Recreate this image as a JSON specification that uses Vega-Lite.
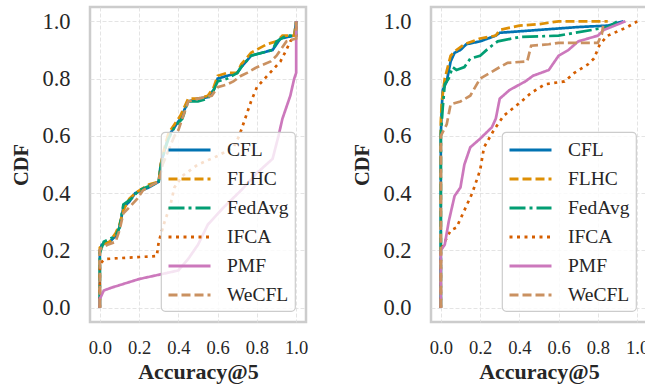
{
  "$schema": "https://vega.github.io/schema/vega-lite/v6.json",
  "padding": {"left": 10, "top": 5, "right": 2, "bottom": 0},
  "background": "white",
  "spacing": 42,
  "config": {
    "font": "Liberation Serif",
    "view": {"stroke": "#cccccc", "strokeWidth": 2.5},
    "axis": {"domain": false, "ticks": false, "grid": true, "gridColor": "#dddddd", "gridDash": [4, 2], "gridWidth": 0.8, "labelColor": "#262626", "titleColor": "#262626", "labelFont": "Liberation Serif", "titleFont": "Liberation Serif", "titleFontWeight": "bold"},
    "axisX": {"labelFontSize": 18.5, "labelPadding": 16, "titlePadding": 5, "titleFontSize": 22},
    "axisY": {"labelFontSize": 22.5, "labelPadding": 20, "titlePadding": 10, "titleFontSize": 20.5},
    "legend": {"orient": "bottom-right", "offset": 11, "fillColor": "rgba(255,255,255,0.8)", "strokeColor": "#cccccc", "strokeWidth": 1.2, "cornerRadius": 4, "padding": 6, "labelFont": "Liberation Serif", "labelFontSize": 19.5, "labelColor": "#262626", "symbolType": "M-1,0L3,0", "symbolSize": 441, "symbolStrokeWidth": 3, "labelOffset": 36, "rowPadding": 7}
  },
  "resolve": {"scale": {"color": "independent", "strokeDash": "independent"}, "legend": {"color": "independent", "strokeDash": "independent"}},
  "datasets": {
    "d": [
      {"p":"L","m":"CFL","i":0,"x":0,"y":0},{"p":"L","m":"CFL","i":1,"x":0,"y":0.2},{"p":"L","m":"CFL","i":2,"x":0.01,"y":0.22},{"p":"L","m":"CFL","i":3,"x":0.05,"y":0.23},{"p":"L","m":"CFL","i":4,"x":0.08,"y":0.25},{"p":"L","m":"CFL","i":5,"x":0.1,"y":0.28},{"p":"L","m":"CFL","i":6,"x":0.12,"y":0.35},{"p":"L","m":"CFL","i":7,"x":0.15,"y":0.37},{"p":"L","m":"CFL","i":8,"x":0.18,"y":0.4},{"p":"L","m":"CFL","i":9,"x":0.25,"y":0.42},{"p":"L","m":"CFL","i":10,"x":0.3,"y":0.44},{"p":"L","m":"CFL","i":11,"x":0.31,"y":0.5},{"p":"L","m":"CFL","i":12,"x":0.33,"y":0.55},{"p":"L","m":"CFL","i":13,"x":0.35,"y":0.6},{"p":"L","m":"CFL","i":14,"x":0.38,"y":0.63},{"p":"L","m":"CFL","i":15,"x":0.41,"y":0.66},{"p":"L","m":"CFL","i":16,"x":0.45,"y":0.72},{"p":"L","m":"CFL","i":17,"x":0.5,"y":0.73},{"p":"L","m":"CFL","i":18,"x":0.55,"y":0.735},{"p":"L","m":"CFL","i":19,"x":0.58,"y":0.76},{"p":"L","m":"CFL","i":20,"x":0.6,"y":0.8},{"p":"L","m":"CFL","i":21,"x":0.65,"y":0.81},{"p":"L","m":"CFL","i":22,"x":0.7,"y":0.82},{"p":"L","m":"CFL","i":23,"x":0.72,"y":0.84},{"p":"L","m":"CFL","i":24,"x":0.77,"y":0.88},{"p":"L","m":"CFL","i":25,"x":0.88,"y":0.9},{"p":"L","m":"CFL","i":26,"x":0.9,"y":0.92},{"p":"L","m":"CFL","i":27,"x":0.92,"y":0.94},{"p":"L","m":"CFL","i":28,"x":0.99,"y":0.95},{"p":"L","m":"CFL","i":29,"x":1.0,"y":1.0},
      {"p":"L","m":"FLHC","i":0,"x":0,"y":0},{"p":"L","m":"FLHC","i":1,"x":0,"y":0.21},{"p":"L","m":"FLHC","i":2,"x":0.01,"y":0.22},{"p":"L","m":"FLHC","i":3,"x":0.05,"y":0.23},{"p":"L","m":"FLHC","i":4,"x":0.08,"y":0.26},{"p":"L","m":"FLHC","i":5,"x":0.1,"y":0.29},{"p":"L","m":"FLHC","i":6,"x":0.12,"y":0.34},{"p":"L","m":"FLHC","i":7,"x":0.15,"y":0.38},{"p":"L","m":"FLHC","i":8,"x":0.18,"y":0.4},{"p":"L","m":"FLHC","i":9,"x":0.25,"y":0.43},{"p":"L","m":"FLHC","i":10,"x":0.3,"y":0.44},{"p":"L","m":"FLHC","i":11,"x":0.31,"y":0.5},{"p":"L","m":"FLHC","i":12,"x":0.33,"y":0.56},{"p":"L","m":"FLHC","i":13,"x":0.35,"y":0.61},{"p":"L","m":"FLHC","i":14,"x":0.38,"y":0.64},{"p":"L","m":"FLHC","i":15,"x":0.41,"y":0.67},{"p":"L","m":"FLHC","i":16,"x":0.45,"y":0.73},{"p":"L","m":"FLHC","i":17,"x":0.5,"y":0.73},{"p":"L","m":"FLHC","i":18,"x":0.55,"y":0.74},{"p":"L","m":"FLHC","i":19,"x":0.58,"y":0.77},{"p":"L","m":"FLHC","i":20,"x":0.6,"y":0.81},{"p":"L","m":"FLHC","i":21,"x":0.65,"y":0.82},{"p":"L","m":"FLHC","i":22,"x":0.7,"y":0.82},{"p":"L","m":"FLHC","i":23,"x":0.72,"y":0.85},{"p":"L","m":"FLHC","i":24,"x":0.77,"y":0.89},{"p":"L","m":"FLHC","i":25,"x":0.85,"y":0.92},{"p":"L","m":"FLHC","i":26,"x":0.9,"y":0.93},{"p":"L","m":"FLHC","i":27,"x":0.93,"y":0.95},{"p":"L","m":"FLHC","i":28,"x":0.99,"y":0.95},{"p":"L","m":"FLHC","i":29,"x":1.0,"y":1.0},
      {"p":"L","m":"FedAvg","i":0,"x":0,"y":0},{"p":"L","m":"FedAvg","i":1,"x":0,"y":0.19},{"p":"L","m":"FedAvg","i":2,"x":0.01,"y":0.21},{"p":"L","m":"FedAvg","i":3,"x":0.02,"y":0.23},{"p":"L","m":"FedAvg","i":4,"x":0.08,"y":0.25},{"p":"L","m":"FedAvg","i":5,"x":0.1,"y":0.28},{"p":"L","m":"FedAvg","i":6,"x":0.12,"y":0.36},{"p":"L","m":"FedAvg","i":7,"x":0.16,"y":0.38},{"p":"L","m":"FedAvg","i":8,"x":0.2,"y":0.41},{"p":"L","m":"FedAvg","i":9,"x":0.27,"y":0.43},{"p":"L","m":"FedAvg","i":10,"x":0.3,"y":0.44},{"p":"L","m":"FedAvg","i":11,"x":0.31,"y":0.49},{"p":"L","m":"FedAvg","i":12,"x":0.33,"y":0.55},{"p":"L","m":"FedAvg","i":13,"x":0.35,"y":0.59},{"p":"L","m":"FedAvg","i":14,"x":0.38,"y":0.63},{"p":"L","m":"FedAvg","i":15,"x":0.42,"y":0.66},{"p":"L","m":"FedAvg","i":16,"x":0.45,"y":0.72},{"p":"L","m":"FedAvg","i":17,"x":0.5,"y":0.72},{"p":"L","m":"FedAvg","i":18,"x":0.55,"y":0.73},{"p":"L","m":"FedAvg","i":19,"x":0.58,"y":0.76},{"p":"L","m":"FedAvg","i":20,"x":0.6,"y":0.79},{"p":"L","m":"FedAvg","i":21,"x":0.65,"y":0.8},{"p":"L","m":"FedAvg","i":22,"x":0.7,"y":0.82},{"p":"L","m":"FedAvg","i":23,"x":0.72,"y":0.84},{"p":"L","m":"FedAvg","i":24,"x":0.77,"y":0.88},{"p":"L","m":"FedAvg","i":25,"x":0.88,"y":0.9},{"p":"L","m":"FedAvg","i":26,"x":0.9,"y":0.93},{"p":"L","m":"FedAvg","i":27,"x":0.95,"y":0.95},{"p":"L","m":"FedAvg","i":28,"x":1.0,"y":0.95},{"p":"L","m":"FedAvg","i":29,"x":1.0,"y":1.0},
      {"p":"L","m":"IFCA","i":0,"x":0,"y":0},{"p":"L","m":"IFCA","i":1,"x":0,"y":0.14},{"p":"L","m":"IFCA","i":2,"x":0.01,"y":0.16},{"p":"L","m":"IFCA","i":3,"x":0.03,"y":0.17},{"p":"L","m":"IFCA","i":4,"x":0.15,"y":0.175},{"p":"L","m":"IFCA","i":5,"x":0.29,"y":0.18},{"p":"L","m":"IFCA","i":6,"x":0.3,"y":0.23},{"p":"L","m":"IFCA","i":7,"x":0.33,"y":0.3},{"p":"L","m":"IFCA","i":8,"x":0.36,"y":0.36},{"p":"L","m":"IFCA","i":9,"x":0.38,"y":0.42},{"p":"L","m":"IFCA","i":10,"x":0.42,"y":0.46},{"p":"L","m":"IFCA","i":11,"x":0.5,"y":0.5},{"p":"L","m":"IFCA","i":12,"x":0.6,"y":0.53},{"p":"L","m":"IFCA","i":13,"x":0.68,"y":0.56},{"p":"L","m":"IFCA","i":14,"x":0.71,"y":0.6},{"p":"L","m":"IFCA","i":15,"x":0.74,"y":0.66},{"p":"L","m":"IFCA","i":16,"x":0.77,"y":0.72},{"p":"L","m":"IFCA","i":17,"x":0.8,"y":0.77},{"p":"L","m":"IFCA","i":18,"x":0.84,"y":0.8},{"p":"L","m":"IFCA","i":19,"x":0.88,"y":0.83},{"p":"L","m":"IFCA","i":20,"x":0.92,"y":0.86},{"p":"L","m":"IFCA","i":21,"x":0.95,"y":0.9},{"p":"L","m":"IFCA","i":22,"x":0.97,"y":0.93},{"p":"L","m":"IFCA","i":23,"x":1.0,"y":0.95},{"p":"L","m":"IFCA","i":24,"x":1.0,"y":1.0},
      {"p":"L","m":"PMF","i":0,"x":0,"y":0},{"p":"L","m":"PMF","i":1,"x":0,"y":0.03},{"p":"L","m":"PMF","i":2,"x":0.02,"y":0.06},{"p":"L","m":"PMF","i":3,"x":0.06,"y":0.07},{"p":"L","m":"PMF","i":4,"x":0.2,"y":0.1},{"p":"L","m":"PMF","i":5,"x":0.4,"y":0.13},{"p":"L","m":"PMF","i":6,"x":0.45,"y":0.17},{"p":"L","m":"PMF","i":7,"x":0.5,"y":0.22},{"p":"L","m":"PMF","i":8,"x":0.55,"y":0.29},{"p":"L","m":"PMF","i":9,"x":0.63,"y":0.35},{"p":"L","m":"PMF","i":10,"x":0.72,"y":0.41},{"p":"L","m":"PMF","i":11,"x":0.8,"y":0.47},{"p":"L","m":"PMF","i":12,"x":0.88,"y":0.52},{"p":"L","m":"PMF","i":13,"x":0.91,"y":0.6},{"p":"L","m":"PMF","i":14,"x":0.93,"y":0.66},{"p":"L","m":"PMF","i":15,"x":0.95,"y":0.7},{"p":"L","m":"PMF","i":16,"x":0.97,"y":0.74},{"p":"L","m":"PMF","i":17,"x":0.99,"y":0.8},{"p":"L","m":"PMF","i":18,"x":1.0,"y":0.82},{"p":"L","m":"PMF","i":19,"x":1.0,"y":1.0},
      {"p":"L","m":"WeCFL","i":0,"x":0,"y":0},{"p":"L","m":"WeCFL","i":1,"x":0,"y":0.2},{"p":"L","m":"WeCFL","i":2,"x":0.01,"y":0.21},{"p":"L","m":"WeCFL","i":3,"x":0.04,"y":0.22},{"p":"L","m":"WeCFL","i":4,"x":0.08,"y":0.23},{"p":"L","m":"WeCFL","i":5,"x":0.1,"y":0.27},{"p":"L","m":"WeCFL","i":6,"x":0.12,"y":0.33},{"p":"L","m":"WeCFL","i":7,"x":0.15,"y":0.35},{"p":"L","m":"WeCFL","i":8,"x":0.19,"y":0.38},{"p":"L","m":"WeCFL","i":9,"x":0.22,"y":0.41},{"p":"L","m":"WeCFL","i":10,"x":0.27,"y":0.43},{"p":"L","m":"WeCFL","i":11,"x":0.3,"y":0.44},{"p":"L","m":"WeCFL","i":12,"x":0.32,"y":0.5},{"p":"L","m":"WeCFL","i":13,"x":0.35,"y":0.55},{"p":"L","m":"WeCFL","i":14,"x":0.38,"y":0.6},{"p":"L","m":"WeCFL","i":15,"x":0.4,"y":0.62},{"p":"L","m":"WeCFL","i":16,"x":0.42,"y":0.66},{"p":"L","m":"WeCFL","i":17,"x":0.45,"y":0.72},{"p":"L","m":"WeCFL","i":18,"x":0.5,"y":0.73},{"p":"L","m":"WeCFL","i":19,"x":0.57,"y":0.74},{"p":"L","m":"WeCFL","i":20,"x":0.6,"y":0.77},{"p":"L","m":"WeCFL","i":21,"x":0.65,"y":0.78},{"p":"L","m":"WeCFL","i":22,"x":0.68,"y":0.79},{"p":"L","m":"WeCFL","i":23,"x":0.72,"y":0.81},{"p":"L","m":"WeCFL","i":24,"x":0.75,"y":0.82},{"p":"L","m":"WeCFL","i":25,"x":0.8,"y":0.84},{"p":"L","m":"WeCFL","i":26,"x":0.87,"y":0.86},{"p":"L","m":"WeCFL","i":27,"x":0.9,"y":0.88},{"p":"L","m":"WeCFL","i":28,"x":0.95,"y":0.93},{"p":"L","m":"WeCFL","i":29,"x":1.0,"y":0.94},{"p":"L","m":"WeCFL","i":30,"x":1.0,"y":1.0},
      {"p":"R","m":"CFL","i":0,"x":0,"y":0},{"p":"R","m":"CFL","i":1,"x":0,"y":0.6},{"p":"R","m":"CFL","i":2,"x":0.005,"y":0.7},{"p":"R","m":"CFL","i":3,"x":0.01,"y":0.76},{"p":"R","m":"CFL","i":4,"x":0.03,"y":0.79},{"p":"R","m":"CFL","i":5,"x":0.05,"y":0.86},{"p":"R","m":"CFL","i":6,"x":0.07,"y":0.89},{"p":"R","m":"CFL","i":7,"x":0.1,"y":0.9},{"p":"R","m":"CFL","i":8,"x":0.13,"y":0.92},{"p":"R","m":"CFL","i":9,"x":0.2,"y":0.93},{"p":"R","m":"CFL","i":10,"x":0.28,"y":0.95},{"p":"R","m":"CFL","i":11,"x":0.3,"y":0.96},{"p":"R","m":"CFL","i":12,"x":0.5,"y":0.97},{"p":"R","m":"CFL","i":13,"x":0.7,"y":0.98},{"p":"R","m":"CFL","i":14,"x":0.85,"y":0.985},{"p":"R","m":"CFL","i":15,"x":0.93,"y":1.0},
      {"p":"R","m":"FLHC","i":0,"x":0,"y":0},{"p":"R","m":"FLHC","i":1,"x":0,"y":0.65},{"p":"R","m":"FLHC","i":2,"x":0.005,"y":0.72},{"p":"R","m":"FLHC","i":3,"x":0.02,"y":0.8},{"p":"R","m":"FLHC","i":4,"x":0.05,"y":0.88},{"p":"R","m":"FLHC","i":5,"x":0.08,"y":0.9},{"p":"R","m":"FLHC","i":6,"x":0.12,"y":0.92},{"p":"R","m":"FLHC","i":7,"x":0.2,"y":0.94},{"p":"R","m":"FLHC","i":8,"x":0.28,"y":0.95},{"p":"R","m":"FLHC","i":9,"x":0.3,"y":0.97},{"p":"R","m":"FLHC","i":10,"x":0.4,"y":0.985},{"p":"R","m":"FLHC","i":11,"x":0.5,"y":0.99},{"p":"R","m":"FLHC","i":12,"x":0.6,"y":1.0},{"p":"R","m":"FLHC","i":13,"x":0.85,"y":1.0},
      {"p":"R","m":"FedAvg","i":0,"x":0,"y":0},{"p":"R","m":"FedAvg","i":1,"x":0,"y":0.6},{"p":"R","m":"FedAvg","i":2,"x":0.01,"y":0.7},{"p":"R","m":"FedAvg","i":3,"x":0.02,"y":0.78},{"p":"R","m":"FedAvg","i":4,"x":0.04,"y":0.8},{"p":"R","m":"FedAvg","i":5,"x":0.06,"y":0.84},{"p":"R","m":"FedAvg","i":6,"x":0.08,"y":0.83},{"p":"R","m":"FedAvg","i":7,"x":0.12,"y":0.84},{"p":"R","m":"FedAvg","i":8,"x":0.15,"y":0.87},{"p":"R","m":"FedAvg","i":9,"x":0.2,"y":0.88},{"p":"R","m":"FedAvg","i":10,"x":0.25,"y":0.91},{"p":"R","m":"FedAvg","i":11,"x":0.29,"y":0.93},{"p":"R","m":"FedAvg","i":12,"x":0.4,"y":0.945},{"p":"R","m":"FedAvg","i":13,"x":0.6,"y":0.95},{"p":"R","m":"FedAvg","i":14,"x":0.77,"y":0.97},{"p":"R","m":"FedAvg","i":15,"x":0.85,"y":0.98},{"p":"R","m":"FedAvg","i":16,"x":0.9,"y":1.0},
      {"p":"R","m":"IFCA","i":0,"x":0,"y":0},{"p":"R","m":"IFCA","i":1,"x":0,"y":0.2},{"p":"R","m":"IFCA","i":2,"x":0.02,"y":0.23},{"p":"R","m":"IFCA","i":3,"x":0.05,"y":0.27},{"p":"R","m":"IFCA","i":4,"x":0.08,"y":0.28},{"p":"R","m":"IFCA","i":5,"x":0.12,"y":0.34},{"p":"R","m":"IFCA","i":6,"x":0.16,"y":0.4},{"p":"R","m":"IFCA","i":7,"x":0.2,"y":0.48},{"p":"R","m":"IFCA","i":8,"x":0.22,"y":0.56},{"p":"R","m":"IFCA","i":9,"x":0.27,"y":0.62},{"p":"R","m":"IFCA","i":10,"x":0.32,"y":0.67},{"p":"R","m":"IFCA","i":11,"x":0.41,"y":0.72},{"p":"R","m":"IFCA","i":12,"x":0.46,"y":0.75},{"p":"R","m":"IFCA","i":13,"x":0.53,"y":0.78},{"p":"R","m":"IFCA","i":14,"x":0.63,"y":0.79},{"p":"R","m":"IFCA","i":15,"x":0.68,"y":0.82},{"p":"R","m":"IFCA","i":16,"x":0.75,"y":0.85},{"p":"R","m":"IFCA","i":17,"x":0.78,"y":0.87},{"p":"R","m":"IFCA","i":18,"x":0.81,"y":0.92},{"p":"R","m":"IFCA","i":19,"x":0.85,"y":0.95},{"p":"R","m":"IFCA","i":20,"x":0.9,"y":0.965},{"p":"R","m":"IFCA","i":21,"x":0.95,"y":0.98},{"p":"R","m":"IFCA","i":22,"x":1.0,"y":1.0},
      {"p":"R","m":"PMF","i":0,"x":0,"y":0},{"p":"R","m":"PMF","i":1,"x":0,"y":0.2},{"p":"R","m":"PMF","i":2,"x":0.02,"y":0.22},{"p":"R","m":"PMF","i":3,"x":0.04,"y":0.3},{"p":"R","m":"PMF","i":4,"x":0.07,"y":0.39},{"p":"R","m":"PMF","i":5,"x":0.1,"y":0.42},{"p":"R","m":"PMF","i":6,"x":0.12,"y":0.5},{"p":"R","m":"PMF","i":7,"x":0.15,"y":0.56},{"p":"R","m":"PMF","i":8,"x":0.2,"y":0.59},{"p":"R","m":"PMF","i":9,"x":0.26,"y":0.63},{"p":"R","m":"PMF","i":10,"x":0.28,"y":0.66},{"p":"R","m":"PMF","i":11,"x":0.3,"y":0.73},{"p":"R","m":"PMF","i":12,"x":0.35,"y":0.76},{"p":"R","m":"PMF","i":13,"x":0.43,"y":0.79},{"p":"R","m":"PMF","i":14,"x":0.47,"y":0.81},{"p":"R","m":"PMF","i":15,"x":0.55,"y":0.83},{"p":"R","m":"PMF","i":16,"x":0.6,"y":0.88},{"p":"R","m":"PMF","i":17,"x":0.65,"y":0.9},{"p":"R","m":"PMF","i":18,"x":0.7,"y":0.93},{"p":"R","m":"PMF","i":19,"x":0.8,"y":0.95},{"p":"R","m":"PMF","i":20,"x":0.83,"y":0.97},{"p":"R","m":"PMF","i":21,"x":0.94,"y":1.0},
      {"p":"R","m":"WeCFL","i":0,"x":0,"y":0},{"p":"R","m":"WeCFL","i":1,"x":0,"y":0.6},{"p":"R","m":"WeCFL","i":2,"x":0.015,"y":0.62},{"p":"R","m":"WeCFL","i":3,"x":0.03,"y":0.64},{"p":"R","m":"WeCFL","i":4,"x":0.05,"y":0.71},{"p":"R","m":"WeCFL","i":5,"x":0.1,"y":0.72},{"p":"R","m":"WeCFL","i":6,"x":0.15,"y":0.74},{"p":"R","m":"WeCFL","i":7,"x":0.2,"y":0.8},{"p":"R","m":"WeCFL","i":8,"x":0.25,"y":0.82},{"p":"R","m":"WeCFL","i":9,"x":0.3,"y":0.84},{"p":"R","m":"WeCFL","i":10,"x":0.34,"y":0.855},{"p":"R","m":"WeCFL","i":11,"x":0.44,"y":0.86},{"p":"R","m":"WeCFL","i":12,"x":0.46,"y":0.915},{"p":"R","m":"WeCFL","i":13,"x":0.55,"y":0.92},{"p":"R","m":"WeCFL","i":14,"x":0.6,"y":0.925},{"p":"R","m":"WeCFL","i":15,"x":0.8,"y":0.925},{"p":"R","m":"WeCFL","i":16,"x":0.82,"y":0.955},{"p":"R","m":"WeCFL","i":17,"x":0.83,"y":1.0}
    ]
  },
  "hconcat": [
    {
      "width": 216, "height": 315,
      "data": {"name": "d"},
      "transform": [{"filter": "datum.p == 'L'"}],
      "mark": {"type": "line", "strokeWidth": 2.7, "clip": true},
      "encoding": {
        "x": {"field": "x", "type": "quantitative", "scale": {"domain": [-0.05, 1.05], "nice": false, "zero": false}, "axis": {"values": [0, 0.2, 0.4, 0.6, 0.8, 1.0], "format": ".1f", "title": "Accuracy@5"}},
        "y": {"field": "y", "type": "quantitative", "scale": {"domain": [-0.05, 1.05], "nice": false, "zero": false}, "axis": {"values": [0, 0.2, 0.4, 0.6, 0.8, 1.0], "format": ".1f", "title": "CDF"}},
        "color": {"field": "m", "type": "nominal", "scale": {"domain": ["CFL", "FLHC", "FedAvg", "IFCA", "PMF", "WeCFL"], "range": ["#0173b2", "#de8f05", "#029e73", "#d55e00", "#cc78bc", "#ca9161"]}, "legend": {"title": null}},
        "strokeDash": {"field": "m", "type": "nominal", "scale": {"domain": ["CFL", "FLHC", "FedAvg", "IFCA", "PMF", "WeCFL"], "range": [[1, 0], [9, 4], [16, 4, 3, 4], [3, 4.5], [1, 0], [9, 4]]}, "legend": {"title": null}},
        "order": {"field": "i", "type": "quantitative"}
      }
    },
    {
      "width": 216, "height": 315,
      "data": {"name": "d"},
      "transform": [{"filter": "datum.p == 'R'"}],
      "mark": {"type": "line", "strokeWidth": 2.7, "clip": true},
      "encoding": {
        "x": {"field": "x", "type": "quantitative", "scale": {"domain": [-0.05, 1.05], "nice": false, "zero": false}, "axis": {"values": [0, 0.2, 0.4, 0.6, 0.8, 1.0], "format": ".1f", "title": "Accuracy@5"}},
        "y": {"field": "y", "type": "quantitative", "scale": {"domain": [-0.05, 1.05], "nice": false, "zero": false}, "axis": {"values": [0, 0.2, 0.4, 0.6, 0.8, 1.0], "format": ".1f", "title": "CDF"}},
        "color": {"field": "m", "type": "nominal", "scale": {"domain": ["CFL", "FLHC", "FedAvg", "IFCA", "PMF", "WeCFL"], "range": ["#0173b2", "#de8f05", "#029e73", "#d55e00", "#cc78bc", "#ca9161"]}, "legend": {"title": null}},
        "strokeDash": {"field": "m", "type": "nominal", "scale": {"domain": ["CFL", "FLHC", "FedAvg", "IFCA", "PMF", "WeCFL"], "range": [[1, 0], [9, 4], [16, 4, 3, 4], [3, 4.5], [1, 0], [9, 4]]}, "legend": {"title": null}},
        "order": {"field": "i", "type": "quantitative"}
      }
    }
  ]
}
